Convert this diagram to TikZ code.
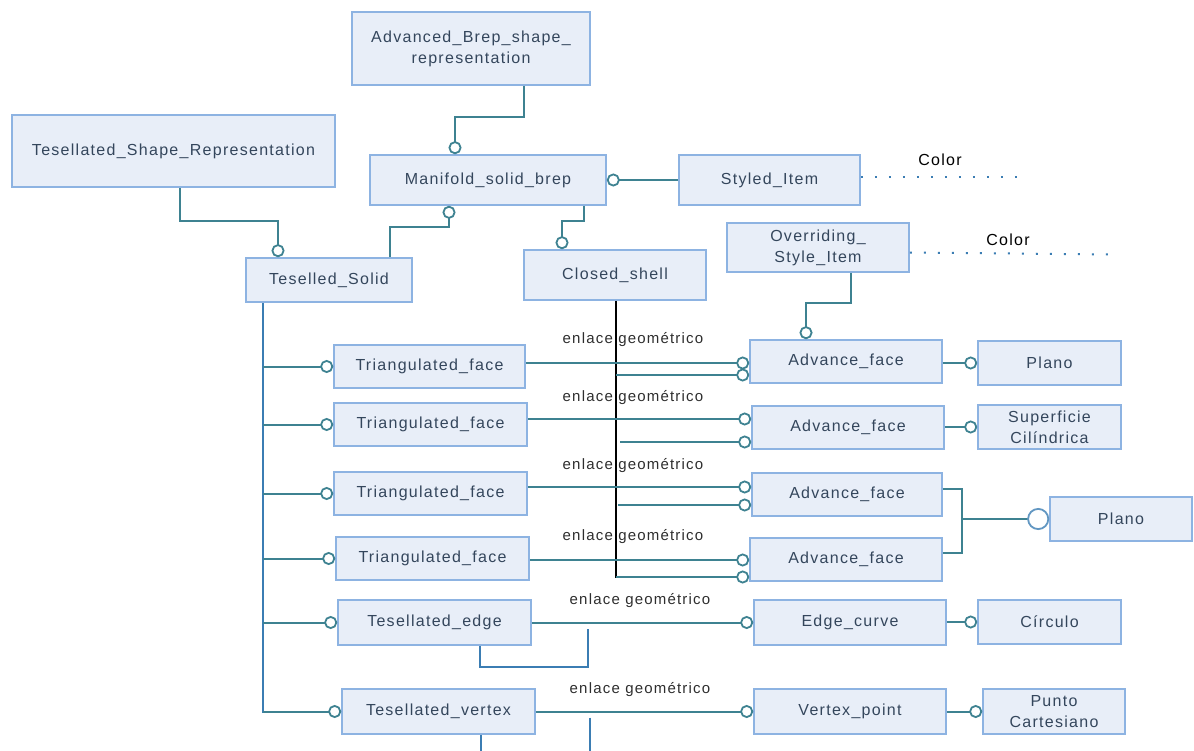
\documentclass[tikz,border=0pt]{standalone}
\usepackage{fontspec}
\setmainfont{Liberation Sans}
\newfontfamily\boxfont[LetterSpace=8]{Liberation Sans}
\usetikzlibrary{arrows.meta,calc}
\definecolor{boxfill}{HTML}{E8EEF8}
\definecolor{boxline}{HTML}{8DB3E2}
\definecolor{teal1}{HTML}{3E8291}
\definecolor{blue1}{HTML}{3B7DB3}
\definecolor{txt}{HTML}{34465C}
\definecolor{labtxt}{HTML}{2E2E2E}
\begin{document}
\begin{tikzpicture}[x=1pt,y=-1pt,
  box/.style={draw=boxline, fill=boxfill, line width=1.6pt, inner sep=2pt, text=txt,
    font=\boxfont\fontsize{16}{21}\selectfont, align=center},
  con/.style={draw=teal1, line width=2pt},
  conb/.style={draw=blue1, line width=2pt},
  ball/.style={con, -{Circle[open, length=13pt, width=13pt, fill=white, line width=1.8pt]}},
  bigball/.style={con, -{Circle[open, length=22pt, width=22pt, fill=white, line width=1.8pt, color=blue1!80]}},
  lab/.style={text=labtxt, font=\boxfont\fontsize{15}{16}\selectfont, inner sep=0pt},
  colorlab/.style={text=black, font=\boxfont\fontsize{16}{16}\selectfont, inner sep=0pt},
  dots/.style={draw=blue1, line width=2pt, dash pattern=on 2pt off 12pt}]
\useasboundingbox (0,0) rectangle (1194,751);

% boxes
\node[box, minimum width=238pt, minimum height=73pt] (AB) at (471,48.5) {Advanced\_Brep\_shape\_\\representation};
\node[box, minimum width=323pt, minimum height=72pt] (TSR) at (173.5,151) {Tesellated\_Shape\_Representation};
\node[box, minimum width=236pt, minimum height=50pt] (MSB) at (488,180) {Manifold\_solid\_brep};
\node[box, minimum width=181pt, minimum height=50pt] (SI) at (769.5,180) {Styled\_Item};
\node[box, minimum width=182pt, minimum height=49pt] (OSI) at (818,247.5) {Overriding\_\\Style\_Item};
\node[box, minimum width=166pt, minimum height=44pt] (TS) at (329,280) {Teselled\_Solid};
\node[box, minimum width=182pt, minimum height=50pt] (CS) at (615,275) {Closed\_shell};

\node[box, minimum width=191pt, minimum height=43pt] (TF1) at (429.5,366.5) {Triangulated\_face};
\node[box, minimum width=193pt, minimum height=43pt] (TF2) at (430.5,424.5) {Triangulated\_face};
\node[box, minimum width=193pt, minimum height=43pt] (TF3) at (430.5,493.5) {Triangulated\_face};
\node[box, minimum width=193pt, minimum height=43pt] (TF4) at (432.5,558.5) {Triangulated\_face};
\node[box, minimum width=193pt, minimum height=45pt] (TE) at (434.5,622.5) {Tesellated\_edge};
\node[box, minimum width=193pt, minimum height=45pt] (TV) at (438.5,711.5) {Tesellated\_vertex};

\node[box, minimum width=192pt, minimum height=43pt] (AF1) at (846,361.5) {Advance\_face};
\node[box, minimum width=192pt, minimum height=43pt] (AF2) at (848,427.5) {Advance\_face};
\node[box, minimum width=190pt, minimum height=43pt] (AF3) at (847,494.5) {Advance\_face};
\node[box, minimum width=192pt, minimum height=43pt] (AF4) at (846,559.5) {Advance\_face};
\node[box, minimum width=192pt, minimum height=45pt] (EC) at (850,622.5) {Edge\_curve};
\node[box, minimum width=192pt, minimum height=45pt] (VP) at (850,711.5) {Vertex\_point};

\node[box, minimum width=143pt, minimum height=44pt] (P1) at (1049.5,363) {Plano};
\node[box, minimum width=143pt, minimum height=44pt] (SC) at (1049.5,427) {Superficie\\Cilíndrica};
\node[box, minimum width=142pt, minimum height=44pt] (P2) at (1121,519) {Plano};
\node[box, minimum width=143pt, minimum height=44pt] (CI) at (1049.5,622) {Círculo};
\node[box, minimum width=142pt, minimum height=45pt] (PC) at (1054,711.5) {Punto\\Cartesiano};

% labels
\node[colorlab] (C1) at (940,160) {Color};
\node[colorlab] (C2) at (1008,240) {Color};
\node[lab] (L1) at (633,340) {enlace geométrico};
\node[lab] (L2) at (633,398) {enlace geométrico};
\node[lab] (L3) at (633,466) {enlace geométrico};
\node[lab] (L4) at (633,537) {enlace geométrico};
\node[lab] (L5) at (640,601) {enlace geométrico};
\node[lab] (L6) at (640,690) {enlace geométrico};

% upper connectors
\draw[ball] ($(AB.south)+(53,0)$) -- ++(0,31) -| ($(MSB.north)+(-33,0)$);
\draw[ball] ($(TSR.south)+(6.5,0)$) -- ++(0,33) -| ($(TS.north)+(-51,0)$);
\draw[ball] ($(TS.north)+(61,0)$) -- ++(0,-30) -| ($(MSB.south)+(-39,0)$);
\draw[ball] ($(MSB.south)+(96,0)$) -- ++(0,15) -| ($(CS.north)+(-53,0)$);
\draw[ball] (SI.west) -- (MSB.east);
\draw[ball] ($(OSI.south)+(33,0)$) -- ++(0,30) -| ($(AF1.north)+(-40,0)$);

\draw[dots] ($(SI.east)+(0,-3)$) -- ++(160,0);
\draw[dots] ($(OSI.east)+(0,5)$) -- ++(202,2);

% closed shell line
\draw[black, line width=1.8pt] ($(CS.south)+(1,0)$) -- ++(0,277) coordinate (csend);

% geometric links
\coordinate (a1) at ($(AF1.west)+(0,1.5)$);
\coordinate (b1) at ($(AF1.west)+(0,13.5)$);
\coordinate (a2) at ($(AF2.west)+(0,-8.5)$);
\coordinate (b2) at ($(AF2.west)+(0,14.5)$);
\coordinate (a3) at ($(AF3.west)+(0,-7.5)$);
\coordinate (b3) at ($(AF3.west)+(0,10.5)$);
\coordinate (a4) at ($(AF4.west)+(0,0.5)$);
\coordinate (b4) at ($(AF4.west)+(0,17.5)$);
\draw[ball] (TF1.east |- a1) -- (a1);
\draw[ball] (csend |- b1) -- (b1);
\draw[ball] (TF2.east |- a2) -- (a2);
\draw[ball] ($(csend |- b2)+(4,0)$) -- (b2);
\draw[ball] (TF3.east |- a3) -- (a3);
\draw[ball] ($(csend |- b3)+(2,0)$) -- (b3);
\draw[ball] (TF4.east |- a4) -- (a4);
\draw[ball] (csend |- b4) -- (b4);
\draw[ball] (TE.east) -- (EC.west);
\draw[ball] (TV.east) -- (VP.west);

\draw[conb] ($(TE.south)+(45.5,0)$) -- ++(0,21) -| ++(108,-38);
\draw[conb] ($(TV.south)+(42.5,0)$) -- ++(0,20);
\draw[conb] ($(TV.east)+(54,6)$) -- ++(0,40);

% right side
\draw[ball] (AF1.east |- P1.west) -- (P1.west);
\draw[ball] (AF2.east |- SC.west) -- (SC.west);
\draw[ball] (EC.east |- CI.west) -- (CI.west);
\draw[ball] (VP.east |- PC.west) -- (PC.west);
\draw[con] ($(AF3.east)+(0,-5.5)$) -- ++(19,0) coordinate (j1) |- ($(AF4.east)+(0,-6.5)$);
\draw[bigball] (j1 |- P2.west) -- (P2.west);

% trunk
\coordinate (trk) at ($(TS.south west)+(18,0)$);
\draw[conb] (trk) -- ++(0,410);
\draw[ball] (trk |- TF1.west) -- (TF1.west);
\draw[ball] (trk |- TF2.west) -- (TF2.west);
\draw[ball] (trk |- TF3.west) -- (TF3.west);
\draw[ball] (trk |- TF4.west) -- (TF4.west);
\draw[ball] (trk |- TE.west) -- (TE.west);
\draw[ball] (trk |- TV.west) -- (TV.west);
\end{tikzpicture}
\end{document}
